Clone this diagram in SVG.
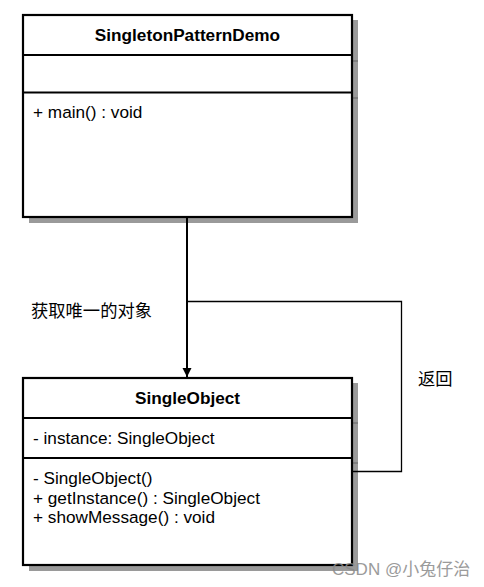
<svg xmlns="http://www.w3.org/2000/svg" width="484" height="587" viewBox="0 0 484 587">
<style>
.box{fill:#fff;stroke:#000;stroke-width:2.2}
.div{stroke:#000;stroke-width:2.2}
.shadow{fill:#9a9a9a}
.sline{stroke:#6e6e6e;stroke-width:1.2}
.t{font-family:"Liberation Sans",Arial,sans-serif;font-size:17.2px;fill:#000}
.b{font-weight:bold;text-anchor:middle}
.cn{font-family:"Noto Sans CJK SC","Liberation Sans",sans-serif;font-size:17.3px;fill:#000}
.wm{font-family:"Liberation Sans","Noto Sans CJK SC",sans-serif;font-size:17px;fill:#8a8a8a;opacity:0.85}
.conn{fill:none;stroke:#000}
</style>
<defs>
<marker id="arr" markerWidth="10" markerHeight="10" refX="9" refY="5" orient="auto" markerUnits="userSpaceOnUse">
<path d="M0,0.5 L9,5 L0,9.5 Z" fill="#000"/>
</marker>
</defs>
<g id="SingletonPatternDemo">
<rect class="shadow" x="29" y="20" width="329" height="203"/>
<line class="sline" x1="353" y1="61" x2="358" y2="61"/>
<line class="sline" x1="353" y1="98" x2="358" y2="98"/>
<rect class="box" x="23" y="15" width="329" height="202"/>
<line class="div" x1="23" y1="55" x2="352" y2="55"/>
<line class="div" x1="23" y1="92.5" x2="352" y2="92.5"/>
<text class="t b" x="187.5" y="41">SingletonPatternDemo</text>
<text class="t" x="33" y="118">+ main() : void</text>
</g>
<g id="SingleObject">
<rect class="shadow" x="29" y="383" width="329" height="188"/>
<line class="sline" x1="353" y1="423" x2="358" y2="423"/>
<line class="sline" x1="353" y1="463" x2="358" y2="463"/>
<rect class="box" x="23" y="378" width="329" height="187"/>
<line class="div" x1="23" y1="418" x2="352" y2="418"/>
<line class="div" x1="23" y1="458" x2="352" y2="458"/>
<text class="t b" x="187.5" y="404">SingleObject</text>
<text class="t" x="33" y="444">- instance: SingleObject</text>
<text class="t" x="33" y="484">- SingleObject()</text>
<text class="t" x="33" y="503.5">+ getInstance() : SingleObject</text>
<text class="t" x="33" y="523">+ showMessage() : void</text>
</g>
<g id="connectors">
<line class="conn" x1="187" y1="218" x2="187" y2="377" stroke-width="2" marker-end="url(#arr)"/>
<polyline class="conn" points="187,301.5 401.5,301.5 401.5,471.5 352,471.5" stroke-width="1.3"/>
<text class="cn" x="31" y="316.5">获取唯一的对象</text>
<text class="cn" x="418" y="384.5">返回</text>
</g>
<text class="wm" x="332" y="575">CSDN @小兔仔治</text>
</svg>
